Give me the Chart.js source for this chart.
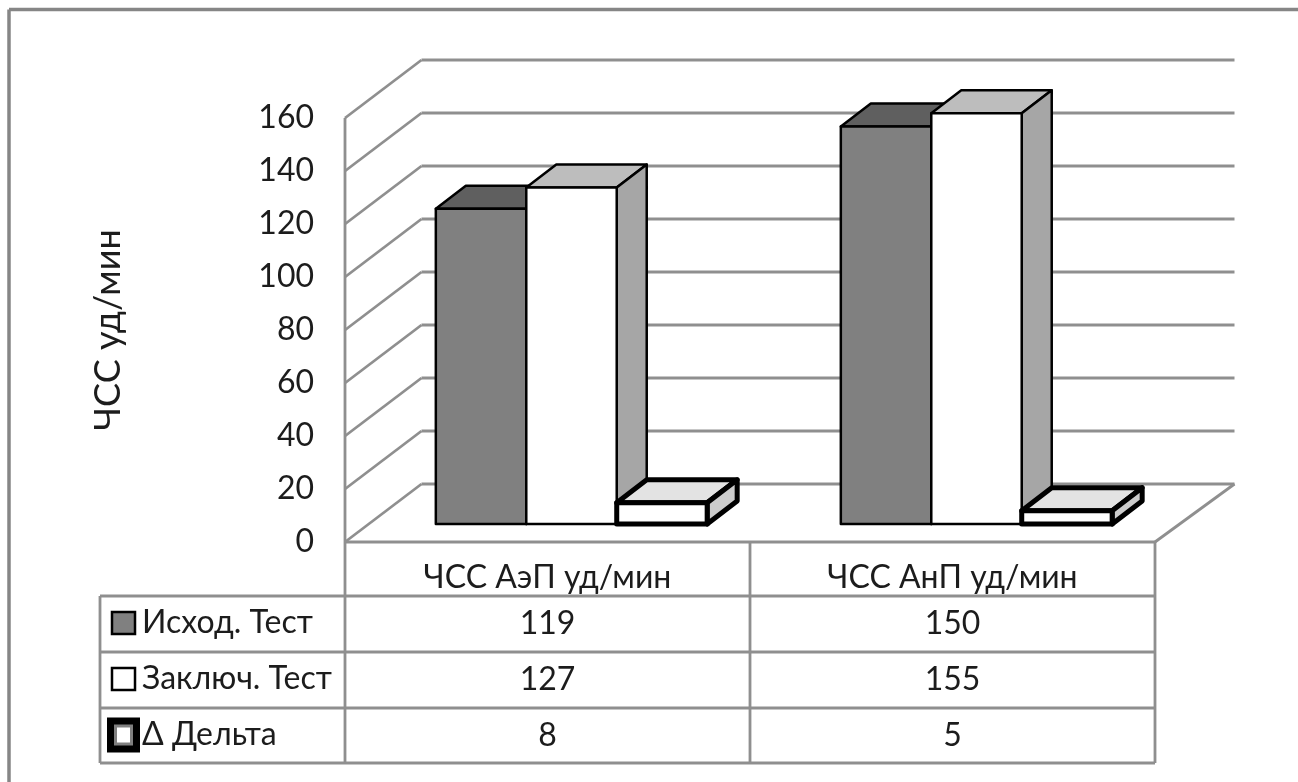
<html>

<head>
  <meta charset="utf-8">
  <title>ЧСС</title>
  <style>
    body { margin: 0; background: #fff; }
    #chart { display: block; }
  </style>
</head>

<body>
  <canvas id="chart" width="1298" height="782"></canvas>

  <script src="https://cdn.jsdelivr.net/npm/chart.js"></script>
  <script>
    const categories = ['ЧСС АэП уд/мин', 'ЧСС АнП уд/мин'];
    const seriesNames = ['Исход. Тест', 'Заключ. Тест', 'Δ Дельта'];
    const initialTest = [119, 150];
    const finalTest = [127, 155];
    const deltaValues = [8, 5];
    const yMax = 160;
    const yStep = 20;

    const FONT = 'Lato, Carlito, sans-serif';
    const TEXT = '#1c1c1c';
    const GRID = '#8f8f8f';

    // colours of the faces: front, top, side
    const faces = [
      { front: '#808080', top: '#5f5f5f', side: '#6e6e6e', line: 2.5 },
      { front: '#ffffff', top: '#bdbdbd', side: '#a6a6a6', line: 2.5 },
      { front: '#ffffff', top: '#e3e3e3', side: '#cccccc', line: 5 }
    ];

    function poly(ctx, pts, fill, stroke, width) {
      ctx.beginPath();
      pts.forEach((p, i) => i ? ctx.lineTo(p[0], p[1]) : ctx.moveTo(p[0], p[1]));
      ctx.closePath();
      if (fill) { ctx.fillStyle = fill; ctx.fill(); }
      if (stroke) { ctx.strokeStyle = stroke; ctx.lineWidth = width; ctx.lineJoin = 'round'; ctx.stroke(); }
    }

    function seg(ctx, x1, y1, x2, y2) {
      ctx.beginPath();
      ctx.moveTo(x1, y1);
      ctx.lineTo(x2, y2);
      ctx.stroke();
    }

    // walls + floor behind the bars, tied to the y scale
    const wallDx = 76.5, wallDy = -58;
    // bars stand in the middle of the floor
    const barDx = 24, barDy = -18;
    // depth of a bar
    const depthX = 30, depthY = -23;

    const wallPlugin = {
      id: 'walls',
      beforeDatasetsDraw(chart) {
        const ctx = chart.ctx, a = chart.chartArea, y = chart.scales.y;
        ctx.save();
        ctx.strokeStyle = GRID;
        ctx.lineWidth = 2.8;
        seg(ctx, a.left, a.top, a.left, a.bottom);
        for (let v = 0; v <= yMax; v += yStep) {
          const py = y.getPixelForValue(v);
          seg(ctx, a.left, py, a.left + wallDx, py + wallDy);
          seg(ctx, a.left + wallDx, py + wallDy, a.right + wallDx + 3, py + wallDy);
        }
        seg(ctx, a.right, a.bottom, a.right + wallDx + 3, a.bottom + wallDy);
        ctx.restore();
      },
      beforeDatasetDraw() {
        return false;
      },
      afterDatasetsDraw(chart) {
        const ctx = chart.ctx;
        chart.data.datasets.forEach((ds, i) => {
          const f = faces[i];
          chart.getDatasetMeta(i).data.forEach(el => {
            const left = el.x - el.width / 2 + barDx, right = el.x + el.width / 2 + barDx;
            const top = el.y + barDy, bottom = el.base + barDy;
            ctx.save();
            poly(ctx, [[left, top], [left + depthX, top + depthY], [right + depthX, top + depthY], [right, top]], f.top, '#000', f.line);
            poly(ctx, [[right, top], [right + depthX, top + depthY], [right + depthX, bottom + depthY], [right, bottom]], f.side, '#000', f.line);
            poly(ctx, [[left, top], [right, top], [right, bottom], [left, bottom]], f.front, '#000', f.line);
            ctx.restore();
          });
        });
      }
    };

    // data table under the plot, top and left edge of the chart frame
    const tablePlugin = {
      id: 'dataTable',
      afterDraw(chart) {
        const ctx = chart.ctx, a = chart.chartArea, x = chart.scales.x;
        const rows = [596, 652, 708, 763];
        const tableLeft = 100;
        const mid = (a.left + a.right) / 2;
        ctx.save();

        ctx.strokeStyle = GRID;
        ctx.lineWidth = 2.8;
        seg(ctx, a.left, a.bottom, a.right, a.bottom);
        seg(ctx, a.left, a.bottom, a.left, rows[3]);
        seg(ctx, mid, a.bottom, mid, rows[3]);
        seg(ctx, a.right, a.bottom, a.right, rows[3]);
        seg(ctx, tableLeft, rows[0], tableLeft, rows[3]);
        rows.forEach(r => seg(ctx, tableLeft, r, a.right, r));

        ctx.strokeStyle = '#868686';
        ctx.lineWidth = 3.5;
        seg(ctx, 9, 782, 9, 9.5);
        seg(ctx, 9, 9.5, 1298, 9.5);

        ctx.font = '32px ' + FONT;
        ctx.fillStyle = TEXT;
        ctx.textBaseline = 'middle';
        chart.data.datasets.forEach((ds, i) => {
          const cy = (rows[i] + rows[i + 1]) / 2;
          ctx.textAlign = 'left';
          ctx.fillStyle = TEXT;
          ctx.fillText(ds.label, 142, cy - 1);
          ctx.textAlign = 'center';
          ds.data.forEach((v, j) => ctx.fillText(String(v), x.getPixelForValue(j), cy));
          // legend keys
          if (i < 2) {
            ctx.fillStyle = faces[i].front;
            ctx.strokeStyle = '#000';
            ctx.lineWidth = 2.5;
            ctx.fillRect(112, cy - 12, 23, 22);
            ctx.strokeRect(112, cy - 12, 23, 22);
          } else {
            ctx.fillStyle = '#000';
            ctx.fillRect(107, cy - 18, 33, 35);
            ctx.fillStyle = '#808080';
            ctx.fillRect(114, cy - 11, 19, 21);
            ctx.fillStyle = '#fff';
            ctx.fillRect(117, cy - 8, 13, 15);
          }
        });
        ctx.restore();
      }
    };

    new Chart(document.getElementById('chart'), {
      type: 'bar',
      data: {
        labels: categories,
        datasets: [
          { label: seriesNames[0], data: initialTest, backgroundColor: faces[0].front, categoryPercentage: 0.67, barPercentage: 1 },
          { label: seriesNames[1], data: finalTest, backgroundColor: faces[1].front, categoryPercentage: 0.67, barPercentage: 1 },
          { label: seriesNames[2], data: deltaValues, backgroundColor: faces[2].front, categoryPercentage: 0.67, barPercentage: 1 }
        ]
      },
      options: {
        responsive: false,
        animation: false,
        layout: { padding: { left: 83, top: 118, right: 143, bottom: 0 } },
        plugins: { legend: { display: false }, tooltip: { enabled: false } },
        scales: {
          x: {
            grid: { display: false },
            border: { display: false },
            ticks: { font: { family: FONT, size: 32 }, color: TEXT, padding: 8, maxRotation: 0 },
            afterFit(scale) { scale.height = 240; }
          },
          y: {
            min: 0,
            max: yMax,
            grid: { display: false },
            border: { display: false },
            ticks: { stepSize: yStep, font: { family: FONT, size: 32 }, color: TEXT, padding: 23 },
            title: { display: true, text: 'ЧСС уд/мин', color: TEXT, font: { family: FONT, size: 36 } },
            afterFit(scale) { scale.width = 262; }
          }
        }
      },
      plugins: [wallPlugin, tablePlugin]
    });
  </script>
</body>

</html>
